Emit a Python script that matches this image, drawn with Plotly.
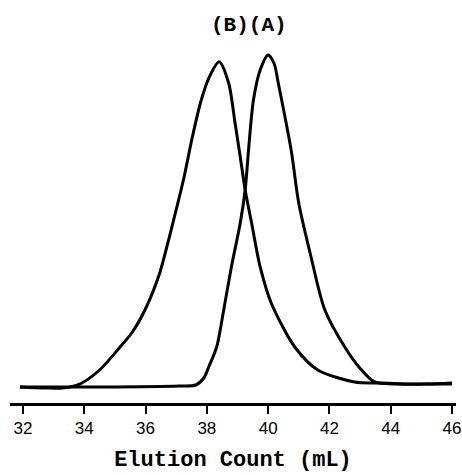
import plotly.graph_objects as go

# Curve A (narrower, later-eluting peak)
a_x = [31.90, 34.50, 37.09, 37.64, 37.90, 38.06, 38.32, 38.55, 38.80, 39.09, 39.25, 39.36,
       39.52, 39.74, 40.00, 40.20, 40.33, 40.75, 41.00, 41.40, 41.85, 42.50, 42.99, 43.47,
       44.22, 45.19, 46.00]
a_y = [4.41, 4.41, 4.68, 4.96, 6.89, 9.92, 15.43, 25.62, 37.47, 49.59, 58.68, 69.70,
       83.47, 91.74, 95.87, 93.39, 88.15, 69.70, 55.0, 40.22, 25.62, 15.43, 9.64, 5.79,
       5.23, 5.23, 5.51]

# Curve B (broader, earlier-eluting peak)
b_x = [31.90, 32.71, 33.29, 33.85, 34.50, 35.14, 35.57, 36.01, 36.44, 36.71, 36.98, 37.25,
       37.52, 37.79, 38.06, 38.40, 38.71, 38.92, 39.09, 39.25, 39.46, 39.74, 40.10, 40.87,
       41.62, 42.82, 43.57, 44.86, 46.00]
b_y = [4.41, 4.13, 4.13, 5.23, 9.09, 15.15, 19.56, 26.17, 35.26, 43.53, 52.62, 61.98,
       73.0, 82.64, 89.45, 94.02, 88.15, 77.13, 67.77, 58.68, 49.59, 37.47, 27.55, 15.43,
       9.09, 5.79, 5.51, 5.23, 5.23]

tick_vals = [32, 34, 36, 38, 40, 42, 44, 46]
tick_text = ["32", "34", "36", "38", "40", "42", "44", "46"]
peak_label = "(B)(A)"
x_title = "Elution Count (mL)"

fig = go.Figure()
fig.add_trace(go.Scatter(x=a_x, y=a_y, mode="lines", name="A",
                         line=dict(color="black", width=3, shape="spline", smoothing=0.8)))
fig.add_trace(go.Scatter(x=b_x, y=b_y, mode="lines", name="B",
                         line=dict(color="black", width=3, shape="spline", smoothing=0.8)))

fig.add_annotation(text=peak_label, xref="paper", yref="paper", x=0.535, y=1.041,
                   showarrow=False, xanchor="center", yanchor="middle",
                   font=dict(family="Liberation Mono", size=21, color="black", weight="bold"))

fig.update_layout(
    width=462, height=475,
    margin=dict(l=10, r=6, t=40, b=72),
    paper_bgcolor="white", plot_bgcolor="white",
    showlegend=False,
    xaxis=dict(range=[31.576, 46.13], tickvals=tick_vals, ticktext=tick_text,
               automargin=False, ticklabeloverflow="allow",
               showgrid=False, zeroline=False, showline=True, linecolor="black", linewidth=2.5,
               ticks="outside", ticklen=8, tickwidth=2, tickcolor="black",
               tickfont=dict(family="Liberation Sans", size=17, color="black"),
               title=dict(text=x_title, standoff=14,
                          font=dict(family="Liberation Mono", size=22, color="black", weight="bold"))),
    yaxis=dict(range=[0, 100], visible=False),
)

fig.write_html("out.html", config={"displayModeBar": False},
               post_script="document.body.style.margin='0';document.body.style.overflow='hidden';")
